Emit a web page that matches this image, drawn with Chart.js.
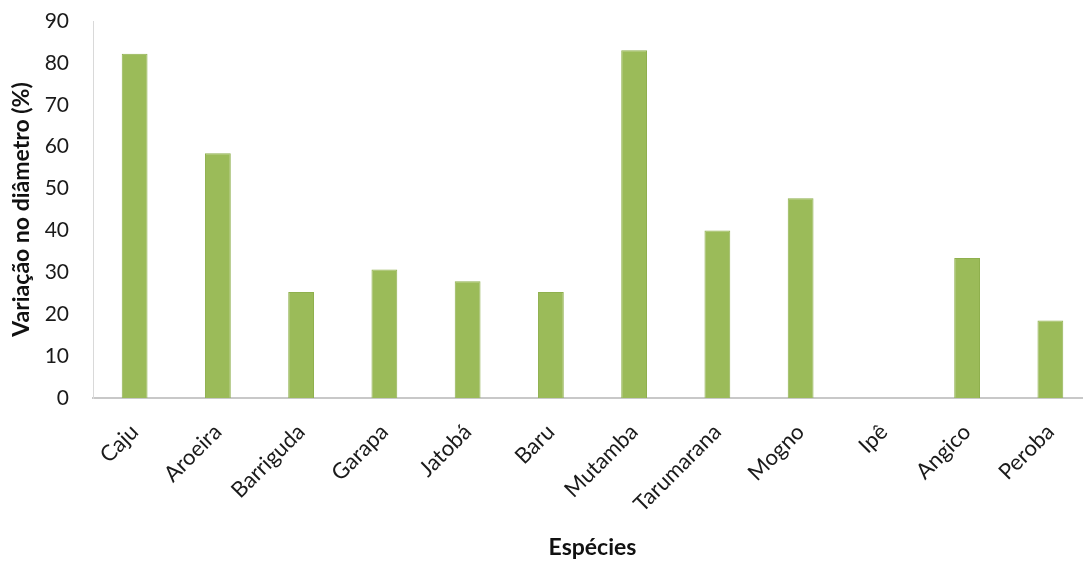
<!DOCTYPE html>
<html>
<head>
<meta charset="utf-8">
<script src="https://cdn.jsdelivr.net/npm/chart.js@4/dist/chart.umd.min.js"></script>
<style>
    html, body { margin: 0; padding: 0; background: #fff; overflow: hidden; }
    canvas { display: block; }
</style>
</head>
<body>
<canvas id="chart" width="1092" height="561"></canvas>
<script>
/* variacao no diametro por especie */

const especies = ['Caju', 'Aroeira', 'Barriguda', 'Garapa', 'Jatobá', 'Baru',
    'Mutamba', 'Tarumarana', 'Mogno', 'Ipê', 'Angico', 'Peroba'];
const variacao = [82.2, 58.4, 25.3, 30.7, 27.9, 25.3, 83.0, 40.0, 47.7, 0, 33.4, 18.5];
const yTicks = [0, 10, 20, 30, 40, 50, 60, 70, 80, 90];

const FONT = 'Lato, "Open Sans", sans-serif';
const ctx = document.getElementById('chart').getContext('2d');

const chart = new Chart(ctx, {
    type: 'bar',
    data: {
        labels: especies,
        datasets: [{
            data: variacao,
            backgroundColor: '#9bbb59',
            borderColor: '#8fb04e',
            borderWidth: 1,
            categoryPercentage: 1.0,
            barPercentage: 0.31
        }]
    },
    options: {
        responsive: false,
        animation: false,
        layout: { padding: { top: 21, left: 8, right: 0, bottom: 0 } },
        plugins: {
            legend: { display: false },
            tooltip: { enabled: false }
        },
        scales: {
            x: {
                grid: { display: false, drawTicks: false },
                border: { color: '#c8c8c8', width: 2 },
                ticks: {
                    color: '#1a1a1a',
                    font: { family: FONT, size: 22 },
                    minRotation: 45,
                    maxRotation: 45,
                    padding: 21
                },
                title: {
                    display: true,
                    text: 'Espécies',
                    color: '#111',
                    font: { family: FONT, size: 23, weight: 'bold' },
                    padding: { top: 0, bottom: 0 }
                },
                afterFit: (scale) => { scale.height = 561 - 398; }
            },
            y: {
                min: 0,
                max: 90,
                afterBuildTicks: (scale) => {
                    scale.ticks = yTicks.map(v => ({ value: v }));
                },
                grid: { display: false, drawTicks: false },
                border: { color: '#d9d9d9', width: 1 },
                ticks: {
                    color: '#1a1a1a',
                    font: { family: FONT, size: 21 },
                    padding: 24
                },
                title: {
                    display: true,
                    text: 'Variação no diâmetro (%)',
                    color: '#111',
                    font: { family: FONT, size: 23, weight: 'bold' },
                    padding: { top: 0, bottom: 0 }
                },
                afterFit: (scale) => {
                    scale.width = 93 - 8;
                    // tick padding is horizontal only, keep the plot top at 90
                    scale.paddingTop = 12;
                    scale.paddingBottom = 12;
                }
            }
        }
    }
});
</script>
</body>
</html>
